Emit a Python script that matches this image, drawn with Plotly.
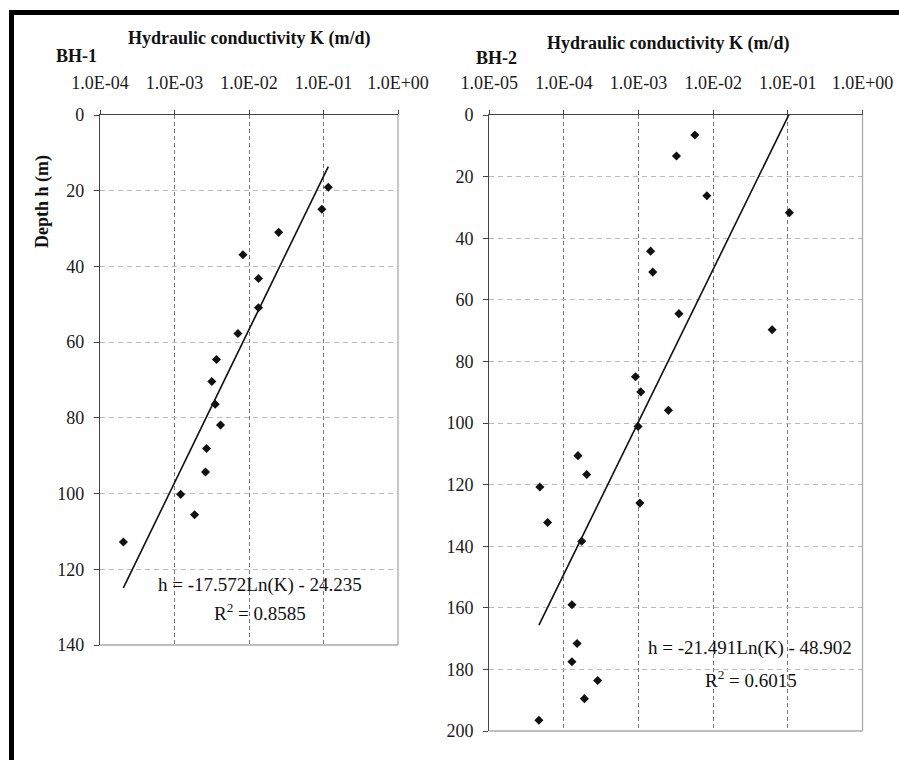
import numpy as np
import plotly.graph_objects as go

W, H = 899, 760

# ---- data ----
bh1_K = [0.116, 0.095, 0.025, 0.0083, 0.0134, 0.0134, 0.0071, 0.00366, 0.00317,
         0.00352, 0.00415, 0.00269, 0.00261, 0.00121, 0.00186, 0.000206]
bh1_h = [19.1, 24.9, 31.0, 36.9, 43.2, 50.9, 57.7, 64.6, 70.4,
         76.4, 81.9, 88.1, 94.3, 100.2, 105.6, 112.8]
bh1_fit = (-17.572, -24.235)   # h = a*ln(K) + b
bh1_r2 = "0.8585"

bh2_K = [0.00567, 0.00322, 0.00822, 0.1047, 0.00145, 0.00155, 0.00347, 0.0616,
         0.000908, 0.00107, 0.00251, 0.000984, 0.000154, 0.000202, 4.76e-5,
         0.00104, 6.04e-5, 0.000173, 0.000128, 0.000150, 0.000128, 0.000283,
         0.000188, 4.62e-5]
bh2_h = [6.5, 13.3, 26.2, 31.7, 44.2, 51.0, 64.5, 69.7, 85.0, 89.9, 95.9, 101.1,
         110.6, 116.7, 120.8, 126.0, 132.3, 138.4, 159.0, 171.6, 177.5, 183.6,
         189.5, 196.5]
bh2_fit = (-21.491, -48.902)
bh2_r2 = "0.6015"

x1_ticks = [1e-4, 1e-3, 1e-2, 1e-1, 1e0]
x1_labels = ["1.0E-04", "1.0E-03", "1.0E-02", "1.0E-01", "1.0E+00"]
x2_ticks = [1e-5, 1e-4, 1e-3, 1e-2, 1e-1, 1e0]
x2_labels = ["1.0E-05", "1.0E-04", "1.0E-03", "1.0E-02", "1.0E-01", "1.0E+00"]

FONT = "Liberation Serif"


def px(x):
    return x / W


def py(y):
    return 1 - y / H


def fit_line(K, coef):
    ks = np.logspace(np.log10(min(K)), np.log10(max(K)), 50)
    hs = coef[0] * np.log(ks) + coef[1]
    return ks, hs


fig = go.Figure()

fig.add_trace(go.Scatter(x=bh1_K, y=bh1_h, mode="markers",
                         marker=dict(symbol="diamond", size=7, color="#111"),
                         xaxis="x", yaxis="y", showlegend=False))
k, h = fit_line(bh1_K, bh1_fit)
fig.add_trace(go.Scatter(x=k, y=h, mode="lines", line=dict(color="#111", width=1.6),
                         xaxis="x", yaxis="y", showlegend=False))

fig.add_trace(go.Scatter(x=bh2_K, y=bh2_h, mode="markers",
                         marker=dict(symbol="diamond", size=7, color="#111"),
                         xaxis="x2", yaxis="y2", showlegend=False))
k, h = fit_line(bh2_K, bh2_fit)
fig.add_trace(go.Scatter(x=k, y=h, mode="lines", line=dict(color="#111", width=1.6),
                         xaxis="x2", yaxis="y2", showlegend=False))

xcommon = dict(type="log", side="top", showline=True, linecolor="#444", linewidth=1.3,
               ticks="outside", ticklen=4, tickcolor="#444",
               showgrid=True, gridcolor="#777", griddash="4px,3px", gridwidth=1,
               tickfont=dict(family=FONT, size=18, color="#1a1a1a"),
               zeroline=False, ticklabelstandoff=14, automargin=False)
ycommon = dict(showline=True, linecolor="#444", linewidth=1.3,
               ticks="outside", ticklen=5, tickcolor="#444", dtick=20,
               showgrid=True, gridcolor="#bbb", griddash="5px,4px", gridwidth=1,
               tickfont=dict(family=FONT, size=18, color="#1a1a1a"),
               zeroline=False, ticklabelstandoff=6, automargin=False)

fig.update_layout(
    width=W, height=H, margin=dict(l=0, r=0, t=0, b=0, autoexpand=False),
    paper_bgcolor="white", plot_bgcolor="white",
    font=dict(family=FONT),
    xaxis=dict(xcommon, domain=[px(100), px(398)], range=[-4, 0], anchor="y",
               tickvals=x1_ticks, ticktext=x1_labels),
    yaxis=dict(ycommon, domain=[py(645), py(115)], range=[140, 0], anchor="x"),
    xaxis2=dict(xcommon, domain=[px(489.3), px(862.5)], range=[-5, 0], anchor="y2",
                tickvals=x2_ticks, ticktext=x2_labels),
    yaxis2=dict(ycommon, domain=[py(731), py(115)], range=[200, 0], anchor="x2"),
)

shapes = []
# light grey right/bottom borders of each plot area
for xr, yr in [("x domain", "y domain"), ("x2 domain", "y2 domain")]:
    shapes.append(dict(type="line", xref=xr, yref=yr, x0=1, x1=1, y0=0, y1=1,
                       line=dict(color="#aaa", width=1.3)))
    shapes.append(dict(type="line", xref=xr, yref=yr, x0=0, x1=1, y0=0, y1=0,
                       line=dict(color="#aaa", width=1.3)))
# black frame (left and top)
shapes.append(dict(type="rect", xref="paper", yref="paper", x0=px(9), x1=px(14),
                   y0=0, y1=py(10), fillcolor="black", line=dict(width=0)))
shapes.append(dict(type="rect", xref="paper", yref="paper", x0=px(9), x1=1,
                   y0=py(15), y1=py(10), fillcolor="black", line=dict(width=0)))
fig.update_layout(shapes=shapes)

ann = []


def text(x, y, t, size=18, bold=False, angle=0):
    ann.append(dict(x=px(x), y=py(y), xref="paper", yref="paper", text=t,
                    showarrow=False, xanchor="center", yanchor="middle",
                    textangle=angle,
                    font=dict(family=FONT, size=size, color="#111",
                              weight="bold" if bold else "normal")))


text(76, 56, "BH-1", bold=True)
text(249, 39, "Hydraulic conductivity K (m/d)", bold=True)
text(496, 58, "BH-2", bold=True)
text(668, 43, "Hydraulic conductivity K (m/d)", bold=True)
text(42, 202, "Depth h (m)", bold=True, angle=-90)

text(260, 585, "h = %.3fLn(K) - %.3f" % (bh1_fit[0], -bh1_fit[1]), size=19)
text(260, 612, "R<sup>2</sup> = " + bh1_r2, size=19)
text(750, 648, "h = %.3fLn(K) - %.3f" % (bh2_fit[0], -bh2_fit[1]), size=19)
text(751, 679, "R<sup>2</sup> = " + bh2_r2, size=19)

fig.update_layout(annotations=ann)

fig.write_html("out.html")
